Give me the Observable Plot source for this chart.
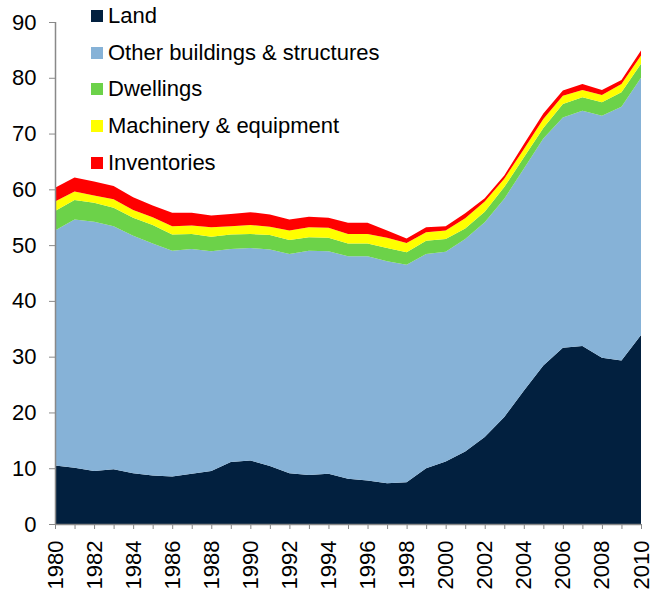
<!DOCTYPE html>
<html>
<head>
<meta charset="utf-8">
<script src="https://cdn.jsdelivr.net/npm/d3@7"></script>
<script src="https://cdn.jsdelivr.net/npm/@observablehq/plot@0.6"></script>
<style>
  html, body { margin: 0; padding: 0; background: #fff; }
  #wrap { position: relative; width: 650px; height: 592px; font-family: "Liberation Sans", Arial, sans-serif; }
  #legend { position: absolute; left: 91px; top: 4px; }
  .item { position: absolute; left: 0; white-space: nowrap; font-size: 22px; color: #000; line-height: 24px; }
  .sw { display: inline-block; width: 12px; height: 12px; margin-right: 5px; vertical-align: 1px; }
</style>
</head>
<body>
<div id="wrap"><div id="legend"></div></div>
<script>
const years = [1980,1981,1982,1983,1984,1985,1986,1987,1988,1989,1990,1991,1992,1993,1994,1995,1996,1997,1998,1999,2000,2001,2002,2003,2004,2005,2006,2007,2008,2009,2010];
const land           = [10.5,10.1,9.5,9.8,9.1,8.7,8.5,9.0,9.5,11.1,11.4,10.4,9.1,8.8,9.0,8.1,7.8,7.3,7.5,10.0,11.2,13.0,15.6,19.2,23.9,28.4,31.6,31.9,29.8,29.3,33.9];
const otherBuildings = [42.1,44.5,44.7,43.6,42.6,41.6,40.5,40.3,39.4,38.2,38.1,38.8,39.3,40.2,39.9,39.9,40.2,39.8,39.0,38.4,37.6,38.1,38.5,39.1,39.8,40.7,41.3,42.2,43.4,45.5,46.1];
const dwellings      = [3.5,3.5,3.4,3.3,3.2,3.3,2.9,2.7,2.6,2.6,2.5,2.6,2.5,2.4,2.4,2.3,2.3,2.4,2.2,2.4,2.3,1.9,1.9,2.1,2.0,1.9,2.4,2.4,2.4,2.6,2.5];
const machinery      = [1.7,1.5,1.3,1.5,1.4,1.4,1.5,1.5,1.7,1.5,1.6,1.5,1.7,1.8,1.8,1.7,1.7,1.8,1.7,1.5,1.5,1.8,1.8,1.5,1.5,1.6,1.5,1.3,1.3,1.5,1.5];
const inventories    = [2.5,2.5,2.5,2.4,2.3,2.1,2.4,2.3,2.1,2.2,2.3,2.2,2.0,1.9,1.8,2.0,2.0,1.3,0.8,0.9,0.8,0.9,0.6,0.6,0.9,1.0,0.9,1.1,0.9,0.7,0.9];
const seriesNames = ["Land","Other buildings & structures","Dwellings","Machinery & equipment","Inventories"];
const seriesColors = ["#02203f","#86b2d7","#6cd249","#ffff00","#ff0000"];
const yTicks = [0,10,20,30,40,50,60,70,80,90];

const seriesValues = [land, otherBuildings, dwellings, machinery, inventories];
const rows = [];
seriesNames.forEach((name, i) => {
  years.forEach((yr, j) => rows.push({year: yr, series: name, value: seriesValues[i][j]}));
});

const chart = Plot.plot({
  width: 650,
  height: 592,
  marginLeft: 55,
  marginRight: 9,
  marginTop: 22,
  marginBottom: 68,
  style: {fontFamily: "'Liberation Sans', Arial, sans-serif", fontSize: "22px", color: "#000", background: "#fff", overflow: "visible"},
  x: {domain: [1980, 2010]},
  y: {domain: [0, 90]},
  color: {domain: seriesNames, range: seriesColors},
  marks: [
    Plot.areaY(rows, {x: "year", y: "value", z: "series", fill: "series", order: seriesNames, curve: "linear"}),
    Plot.ruleX([1980], {stroke: "#898989", strokeWidth: 1.5}),
    Plot.ruleY([0], {stroke: "#898989", strokeWidth: 1.5}),
    Plot.axisY({ticks: yTicks, tickSize: 6, tickPadding: 13, stroke: "#898989", tickFormat: d => String(d), label: null}),
    Plot.axisX({ticks: years, tickSize: 5, tickPadding: 11, stroke: "#898989", tickRotate: -90, tickFormat: d => (d % 2 === 0 ? String(d) : ""), label: null})
  ]
});
document.getElementById("wrap").prepend(chart);

const legend = document.getElementById("legend");
seriesNames.forEach((name, i) => {
  const div = document.createElement("div");
  div.className = "item";
  div.style.top = (i * 36.7) + "px";
  const sw = document.createElement("span");
  sw.className = "sw";
  sw.style.background = seriesColors[i];
  div.appendChild(sw);
  div.appendChild(document.createTextNode(name));
  legend.appendChild(div);
});
</script>
</body>
</html>
